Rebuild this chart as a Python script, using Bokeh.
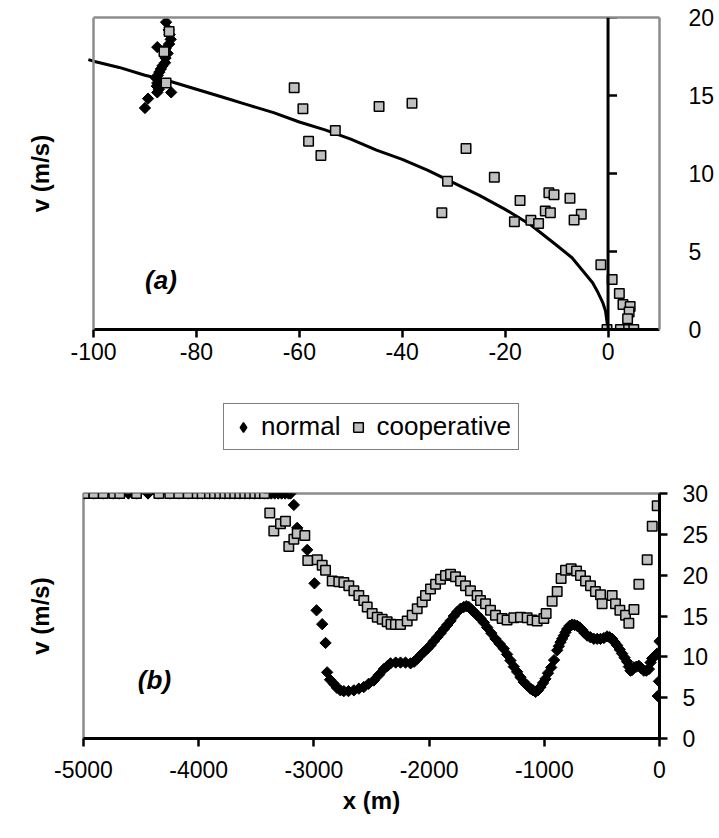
from bokeh.plotting import figure
from bokeh.models import (LinearAxis, FixedTicker, Range1d, Span, Label,
                          Legend, LegendItem)
from bokeh.layouts import column
from bokeh.embed import file_html
from bokeh.resources import INLINE
import numpy as np

FONT = "Liberation Sans"
GRAY = "#8c8c8c"
SQ_FILL = "#c0c0c0"

# ---------------- panel (a) data ----------------
a_curve_x = [-101, -100, -95, -90, -85, -80, -75, -70, -65, -60, -55, -50, -45, -40,
             -35, -30, -25, -20, -15, -10, -7, -5, -3, -2, -1, -0.5, 0]
a_curve_v = [17.3, 17.2, 16.8, 16.3, 15.9, 15.4, 14.9, 14.4, 13.9, 13.3, 12.8, 12.2,
             11.5, 10.9, 10.2, 9.4, 8.6, 7.7, 6.7, 5.4, 4.6, 3.8, 3.0, 2.4, 1.7, 1.2, 0.0]

a_normal_x = [-85.9, -85.4, -85.2, -85.0, -85.3, -87.6, -86.0, -85.6, -86.0, -86.1,
              -86.6, -86.9, -87.2, -87.5, -87.8, -87.6, -87.7, -87.3, -87.6, -84.9,
              -89.4, -90.0]
a_normal_v = [19.7, 19.2, 18.9, 18.6, 18.3, 18.1, 18.0, 17.7, 17.4, 17.1,
              16.9, 16.7, 16.5, 16.3, 16.1, 15.8, 15.6, 15.4, 15.2, 15.2,
              14.8, 14.2]

a_coop_x = [-85.3, -86.3, -85.9, -61.0, -59.3, -53.0, -58.2, -55.8, -44.5, -38.1,
            -31.2, -32.3, -27.6, -22.1, -17.1, -18.2, -15.0, -13.5, -11.5, -10.5,
            -12.2, -11.2, -7.4, -5.2, -6.6, -1.4, 0.8, 2.2, 2.9, 4.3,
            4.1, 3.8, -0.2, 2.4, 4.0, 5.0]
a_coop_v = [19.1, 17.8, 15.8, 15.5, 14.15, 12.76, 12.07, 11.15, 14.3, 14.5,
            9.5, 7.48, 11.6, 9.76, 8.27, 6.9, 7.0, 6.8, 8.76, 8.63,
            7.6, 7.48, 8.42, 7.38, 7.02, 4.15, 3.2, 2.3, 1.6, 1.48,
            1.12, 0.69, 0.0, 0.0, 0.0, 0.0]

a_xticks = [-100, -80, -60, -40, -20, 0]
a_yticks = [0, 5, 10, 15, 20]
a_xlim = (-100, 10)
a_ylim = (0, 20)

# ---------------- panel (b) data ----------------
b_normal_x = [-4990, -4910, -4830, -4740, -4690, -4610, -4540, -4440, -4350, -4250,
              -4170, -4090, -4010, -3970, -3906, -3863, -3817, -3773, -3730, -3687,
              -3643, -3600, -3557, -3513, -3470, -3429, -3400, -3370, -3340, -3310,
              -3280, -3250, -3220, -3203,
              -3174, -3145, -3058, -2995, -2977, -2928, -2899, -2885,
              -2860, -2827, -2800, -2770, -2740, -2700, -2653, -2610, -2567, -2525,
              -2480, -2435, -2393, -2360, -2335, -2290, -2248, -2205, -2161, -2130,
              -2103, -2075, -2045, -2015, -1988, -1960, -1930, -1900, -1872, -1843,
              -1814, -1785, -1756, -1727, -1699, -1677, -1655, -1633, -1612, -1583,
              -1554, -1525, -1496, -1460, -1424, -1388, -1352, -1323, -1294, -1265,
              -1236, -1207, -1178, -1149, -1120, -1098, -1076, -1055, -1033, -1011,
              -990, -968, -940, -915, -888, -874, -859, -845, -830, -816,
              -802, -780, -758, -737, -715, -693, -672, -650, -628, -600,
              -570, -541, -512, -483, -455, -433, -411, -390, -368, -346,
              -325, -303, -281, -266, -252, -237, -222, -200, -179, -158,
              -136, -114, -92, -78, -63, -49, -35, -20, 0, -5, -15]
b_normal_v = [30, 30, 30, 30, 30, 30, 30, 30, 30, 30,
              30, 30, 30, 30, 30, 30, 30, 30, 30, 30,
              30, 30, 30, 30, 30, 30, 30, 30, 30, 30,
              30, 30, 30, 30,
              28.6, 25.8, 23.1, 19.0, 15.7, 14.0, 11.7, 8.1,
              7.2, 6.7, 6.2, 5.9, 5.8, 5.8, 5.9, 6.1, 6.3, 6.7,
              7.1, 7.8, 8.5, 8.9, 9.2, 9.3, 9.3, 9.3, 9.2, 9.4,
              9.75, 10.2, 10.6, 11.0, 11.4, 11.9, 12.4, 12.9, 13.4, 13.9,
              14.4, 15.0, 15.5, 15.9, 16.1, 16.2, 16.1, 15.8, 15.5, 15.1,
              14.7, 14.2, 13.6, 12.9, 12.2, 11.6, 11.0, 10.3, 9.55, 8.8,
              8.16, 7.5, 6.9, 6.5, 6.1, 5.9, 5.7, 5.9, 6.3, 6.8,
              7.3, 8.0, 8.7, 9.6, 10.8, 11.3, 11.8, 12.2, 12.6, 13.0,
              13.4, 13.8, 13.95, 13.9, 13.8, 13.6, 13.3, 12.9, 12.6, 12.4,
              12.2, 12.2, 12.2, 12.3, 12.5, 12.4, 12.2, 11.8, 11.4, 10.9,
              10.4, 9.9, 9.4, 8.8, 8.3, 8.4, 8.7, 8.8, 8.9, 8.6,
              8.3, 8.3, 8.5, 9.3, 9.8, 10.0, 10.2, 10.4, 11.9, 7.0, 5.2]

b_coop_x = [-4991, -4910, -4829, -4737, -4685, -4540, -4346, -4251, -4173, -4091,
            -4013, -3970, -3906, -3863, -3817, -3773, -3730, -3687, -3643, -3600,
            -3557, -3513, -3470, -3429,
            -3383, -3348, -3290, -3247, -3218, -3174, -3145, -3079, -3053, -2971,
            -2928, -2899, -2841, -2784, -2740, -2697, -2653, -2610, -2567, -2537,
            -2494, -2450, -2407, -2364, -2330, -2292, -2248, -2190, -2147, -2103,
            -2060, -2031, -1988, -1944, -1901, -1858, -1814, -1771, -1727, -1684,
            -1641, -1583, -1554, -1510, -1467, -1424, -1366, -1323, -1265, -1207,
            -1149, -1105, -1062, -1004, -984, -932, -888, -854, -816, -767,
            -720, -686, -642, -599, -556, -512, -498, -411, -382, -344,
            -295, -266, -222, -179, -107, -63, -20]
b_coop_v = [30, 30, 30, 30, 30, 30, 30, 30, 30, 30,
            30, 30, 30, 30, 30, 30, 30, 30, 30, 30,
            30, 30, 30, 30,
            27.6, 25.4, 26.3, 26.6, 23.5, 24.4, 25.1, 24.85, 21.8, 21.9,
            21.2, 20.6, 19.3, 19.2, 19.1, 18.7, 18.1, 17.5, 16.9, 16.1,
            15.3, 14.85, 14.6, 14.3, 14.0, 13.95, 13.95, 14.4, 15.1, 15.9,
            16.7, 17.5, 18.3, 18.9, 19.5, 19.95, 20.1, 19.8, 19.3, 18.7,
            18.1, 17.5, 16.9, 16.5, 15.7, 15.1, 14.7, 14.5, 14.8, 14.85,
            14.8, 14.5, 14.4, 14.7, 15.3, 16.8, 18.0, 19.6, 20.6, 20.8,
            20.5, 19.95, 19.3, 18.7, 18.0, 17.6, 16.5, 17.5, 16.5, 15.7,
            15.1, 14.1, 15.8, 18.9, 21.9, 26.0, 28.5]

b_xticks = [-5000, -4000, -3000, -2000, -1000, 0]
b_yticks = [0, 5, 10, 15, 20, 25, 30]
b_xlim = (-5000, 0)
b_ylim = (0, 30)

legend_labels = ["normal", "cooperative"]

TICK_FS = "23px"
TITLE_FS = "24px"
W = 719
FRAME_L, FRAME_R = 83, 659          # shared (aligned) frame edges of the column
A_LEFT = 93                          # where x=-100 sits in panel (a)

NORMAL_STYLE = dict(marker="square", angle=np.pi / 4, size=8,
                    fill_color="black", line_color="black", line_width=1)
COOP_STYLE = dict(marker="square", size=9.5,
                  fill_color=SQ_FILL, line_color="black", line_width=1.5)


def base_fig(height, xr, yr, top, bottom):
    p = figure(width=W, height=height, x_range=Range1d(*xr), y_range=Range1d(*yr),
               output_backend="svg", toolbar_location=None,
               x_axis_location=None, y_axis_location=None,
               min_border_left=FRAME_L, min_border_right=W - FRAME_R,
               min_border_top=top, min_border_bottom=bottom)
    p.grid.visible = False
    p.outline_line_color = None
    p.background_fill_color = "white"
    p.border_fill_color = "white"
    return p


def style_ticklabels(ax, ticks):
    ax.major_label_text_font = FONT
    ax.major_label_text_font_size = TICK_FS
    ax.major_label_text_color = "black"
    ax.minor_tick_line_color = None
    ax.major_label_overrides = {t: str(t) for t in ticks}


def bare_axis(**kw):
    return LinearAxis(ticker=FixedTicker(ticks=[]), major_tick_line_color=None,
                      minor_tick_line_color=None, major_tick_out=0, major_tick_in=0,
                      major_label_standoff=0, **kw)


def title_axis(p, standoff):
    ax = bare_axis(axis_line_color=None, axis_label="v (m/s)", axis_label_text_font=FONT,
                   axis_label_text_font_size=TITLE_FS, axis_label_text_font_style="bold",
                   axis_label_text_color="black", axis_label_standoff=standoff)
    p.add_layout(ax, "left")


# ================= top panel (a) =================
px_per_unit = (FRAME_R - A_LEFT) / (a_xlim[1] - a_xlim[0])
a_start = a_xlim[0] - (A_LEFT - FRAME_L) / px_per_unit
p1 = base_fig(380, (a_start, a_xlim[1]), a_ylim, 17, 51)

xa = LinearAxis(ticker=FixedTicker(ticks=a_xticks), bounds=a_xlim, axis_line_color="black",
                axis_line_width=3, major_tick_line_color="black", major_tick_line_width=2.5,
                major_tick_out=8, major_tick_in=0, major_label_standoff=5)
style_ticklabels(xa, a_xticks)
p1.add_layout(xa, "below")

ya = LinearAxis(ticker=FixedTicker(ticks=a_yticks), axis_line_color=GRAY, axis_line_width=2.5,
                major_tick_line_color=None, major_tick_out=0, major_tick_in=0,
                major_label_standoff=29)
style_ticklabels(ya, a_yticks)
p1.add_layout(ya, "right")

p1.add_layout(bare_axis(bounds=a_xlim, axis_line_color=GRAY, axis_line_width=2.5), "above")
p1.add_layout(Span(location=a_xlim[0], dimension="height", line_color=GRAY, line_width=2.5))
title_axis(p1, 30)

# y axis crossing at x = 0 with ticks pointing right
p1.add_layout(Span(location=0, dimension="height", line_color="black", line_width=3))
tick_len = 9 / px_per_unit
p1.segment(x0=[0] * (len(a_yticks) - 1), y0=a_yticks[1:],
           x1=[tick_len] * (len(a_yticks) - 1), y1=a_yticks[1:],
           line_color="black", line_width=2.5)

p1.line(a_curve_x, a_curve_v, line_color="black", line_width=3)
p1.scatter(a_normal_x, a_normal_v, **NORMAL_STYLE)
p1.scatter(a_coop_x, a_coop_v, **COOP_STYLE)

p1.add_layout(Label(x=-86.9, y=3.2, text="(a)", text_font=FONT, text_font_size="26px",
                    text_font_style="bold italic", text_align="center",
                    text_baseline="middle", text_color="black"))

# ================= legend strip =================
# the strip's ranges lie far away from the data, so its renderers only feed the legend
pl = figure(width=W, height=85, x_range=Range1d(1e6, 1e6 + 1), y_range=Range1d(1e6, 1e6 + 1),
            output_backend="svg", toolbar_location=None,
            x_axis_location=None, y_axis_location=None,
            min_border_left=FRAME_L, min_border_right=W - FRAME_R,
            min_border_top=0, min_border_bottom=0)
pl.grid.visible = False
pl.outline_line_color = None
# legends draw markers unrotated, so the diamond marker stands in for the rotated square
ln = pl.scatter(a_normal_x, a_normal_v, marker="diamond", size=8,
                fill_color="black", line_color="black", line_width=1.5)
lc = pl.scatter(a_coop_x, a_coop_v, **COOP_STYLE)
legend = Legend(items=[LegendItem(label=legend_labels[0], renderers=[ln]),
                       LegendItem(label=legend_labels[1], renderers=[lc])],
                orientation="horizontal", location=(140, 15),
                label_text_font=FONT, label_text_font_size="26px",
                label_text_color="black", glyph_width=24, glyph_height=24,
                label_standoff=6, spacing=6, padding=7, margin=0,
                border_line_color="black", border_line_width=1,
                background_fill_color="white", background_fill_alpha=1)
pl.add_layout(legend)

# ================= bottom panel (b) =================
p2 = base_fig(372, b_xlim, b_ylim, 28, 99)
p2.outline_line_color = GRAY
p2.outline_line_width = 2.5

xb = LinearAxis(ticker=FixedTicker(ticks=b_xticks), axis_line_color="black",
                axis_line_width=3, major_tick_line_color="black", major_tick_line_width=2.5,
                major_tick_out=8, major_tick_in=0, major_label_standoff=14,
                axis_label="x (m)", axis_label_text_font=FONT,
                axis_label_text_font_size=TITLE_FS, axis_label_text_font_style="bold",
                axis_label_text_color="black", axis_label_standoff=6)
style_ticklabels(xb, b_xticks)
p2.add_layout(xb, "below")

yb = LinearAxis(ticker=FixedTicker(ticks=b_yticks), axis_line_color="black",
                axis_line_width=3, major_tick_line_color="black", major_tick_line_width=2.5,
                major_tick_out=8, major_tick_in=0, major_label_standoff=15)
style_ticklabels(yb, b_yticks)
p2.add_layout(yb, "right")
title_axis(p2, 30)

p2.scatter(b_normal_x, b_normal_v, **NORMAL_STYLE)
p2.scatter(b_coop_x, b_coop_v, **COOP_STYLE)

p2.add_layout(Label(x=-4384, y=7.2, text="(b)", text_font=FONT, text_font_size="26px",
                    text_font_style="bold italic", text_align="center",
                    text_baseline="middle", text_color="black"))

layout = column(p1, pl, p2, spacing=0)
open("out.html", "w").write(file_html(layout, INLINE))
